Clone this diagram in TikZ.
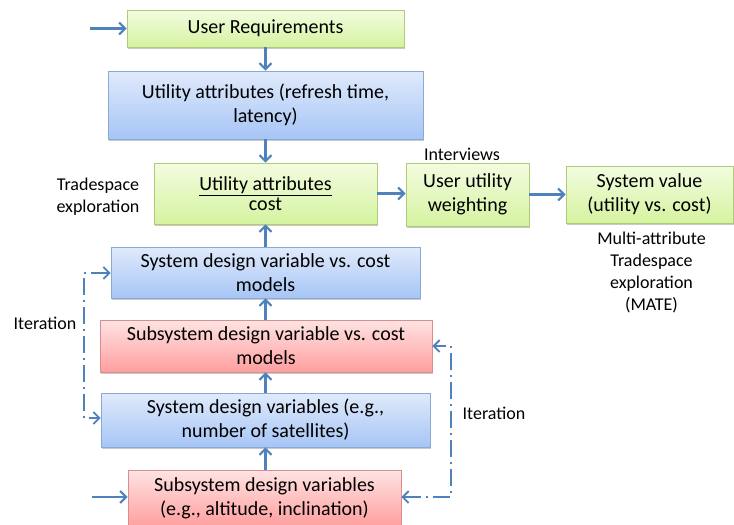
\documentclass[tikz,border=0pt]{standalone}
\usepackage{fontspec}
\setmainfont{Carlito}
\usetikzlibrary{arrows.meta,shadows}
\definecolor{arr}{HTML}{4F81BD}
\definecolor{gtop}{HTML}{F3FCE0}
\definecolor{gbot}{HTML}{D5F3A0}
\definecolor{gline}{HTML}{AFCB78}
\definecolor{btop}{HTML}{E0EAFB}
\definecolor{bbot}{HTML}{A6C5F6}
\definecolor{bline}{HTML}{8AAAD6}
\definecolor{rtop}{HTML}{FFE3E3}
\definecolor{rbot}{HTML}{FF9E9E}
\definecolor{rline}{HTML}{D98E8E}
\begin{document}
\begin{tikzpicture}[x=1pt,y=-1pt,
  base/.style={rectangle, line width=0.9pt, inner sep=0pt, align=center,
    font=\fontsize{20}{24}\selectfont,
    drop shadow={shadow xshift=1.2pt, shadow yshift=-1.8pt, opacity=0.35, fill=black!60}},
  gbox/.style={base, draw=gline, top color=gtop, bottom color=gbot},
  bbox/.style={base, draw=bline, top color=btop, bottom color=bbot},
  rbox/.style={base, draw=rline, top color=rtop, bottom color=rbot},
  lab/.style={align=center, inner sep=0pt, font=\fontsize{18}{21.8}\selectfont},
  conn/.style={draw=arr, line width=2.2pt, -{Straight Barb[length=6pt,width=12pt,line width=2pt]}},
  iter/.style={draw=arr, line width=1.8pt, dash pattern=on 17pt off 5pt on 2pt off 5pt,
    {Straight Barb[length=6pt,width=12pt,line width=1.8pt]}-{Straight Barb[length=6pt,width=12pt,line width=1.8pt]}}
]
\useasboundingbox[fill=white] (0,0) rectangle (734,525);

\node[gbox, minimum width=277pt, minimum height=37pt] (ureq) at (265.5,28.5) {User Requirements};
\node[bbox, minimum width=315pt, minimum height=68pt] (uattr) at (265.5,105) {Utility attributes (refresh time,\\latency)};
\node[gbox, minimum width=223pt, minimum height=61pt] (ucost) at (265.5,193.5)
  {\underline{Utility attributes}\\[-4pt]cost};
\node[gbox, minimum width=123pt, minimum height=63pt] (uuw) at (467.5,194.5) {User utility\\weighting};
\node[gbox, minimum width=167pt, minimum height=57pt] (sval) at (649.5,194.5) {System value\\(utility vs. cost)};
\node[bbox, minimum width=309pt, minimum height=51pt] (sdvc) at (265.5,272.5) {System design variable vs. cost\\models};
\node[rbox, minimum width=332pt, minimum height=52pt] (ssdvc) at (266,346) {Subsystem design variable vs. cost\\models};
\node[bbox, minimum width=329pt, minimum height=54pt] (sdv) at (265.5,420) {System design variables (e.g.,\\number of satellites)};
\node[rbox, minimum width=273pt, minimum height=57pt] (ssdv) at (264.5,498.5) {Subsystem design variables\\(e.g., altitude, inclination)};

\node[lab] (tse) at (98,197) {Tradespace\\exploration};
\node[lab] (intv) at (462,154) {Interviews};
\node[lab] (mate) at (651.5,272.5) {Multi-attribute\\Tradespace\\exploration\\(MATE)};
\node[lab] (itl) at (45,323) {Iteration};
\node[lab] (itr) at (494,413) {Iteration};

\coordinate (in1) at (90,28.5);
\coordinate (in2) at (92,497);
\coordinate (xl) at (84,0);
\coordinate (xr) at (451,0);

\draw[conn] (in1) -- (ureq.west);
\draw[conn] (ureq) -- (uattr);
\draw[conn] (uattr) -- (ucost);
\draw[conn] (ucost.east) -- (ucost.east -| uuw.west);
\draw[conn] (uuw.east) -- (uuw.east -| sval.west);
\draw[conn] (sdvc) -- (ucost);
\draw[conn] (ssdvc.north -| sdvc.south) -- (sdvc.south);
\draw[conn] (sdv.north -| sdvc.south) -- (ssdvc.south -| sdvc.south);
\draw[conn] (ssdv.north -| sdvc.south) -- (sdv.south -| sdvc.south);
\draw[conn] (in2) -- (in2 -| ssdv.west);

\draw[iter] (sdvc.west |- 0,273) -- (xl |- 0,273) -- (xl |- 0,418) -- (sdv.west |- 0,418);
\draw[iter] (ssdv.east |- 0,497) -- (xr |- 0,497) -- (xr |- ssdvc.east) -- (ssdvc.east);
\end{tikzpicture}
\end{document}
